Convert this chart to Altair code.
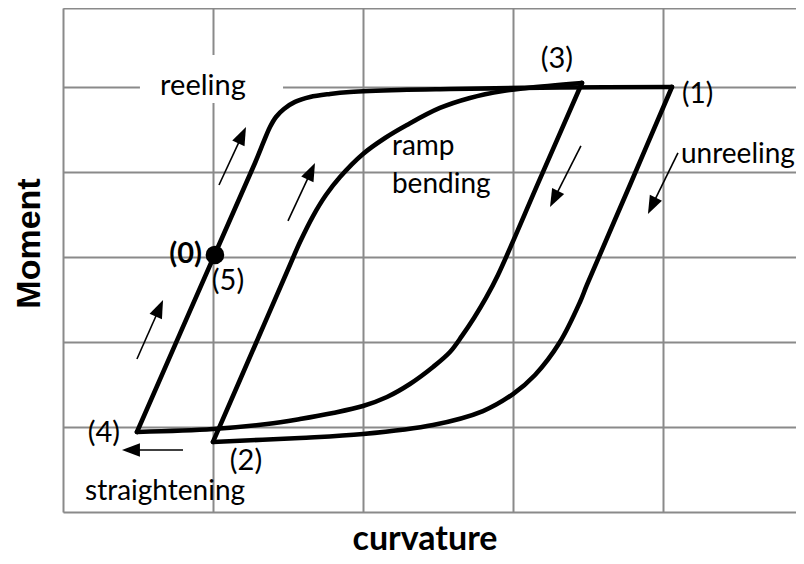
import math
import altair as alt
import pandas as pd

# ---- axis extents (grid units) ----
X_MAX = 4.887
Y_MAX = 5.929
PX_X = 150.0   # pixels per x unit (for orienting arrow heads only)
PX_Y = 85.0    # pixels per y unit
HEAD_HALF = 9.0

# ---- curve segments (curvature, moment) ----
reel_x = [0.493, 1.013, 1.28, 1.34, 1.38, 1.42, 1.473, 1.547, 1.647, 1.78, 1.913, 2.247, 2.58, 3.313, 4.06]
reel_y = [0.941, 3.035, 4.106, 4.365, 4.529, 4.647, 4.741, 4.824, 4.882, 4.918, 4.941, 4.965, 4.976, 4.994, 5.0]
unreel_x = [1.0, 1.58, 2.0, 2.467, 2.8, 3.0, 3.147, 3.313, 3.447, 3.493, 3.78, 4.06]
unreel_y = [0.824, 0.871, 0.918, 1.024, 1.188, 1.388, 1.612, 2.0, 2.471, 2.671, 3.847, 5.0]
ramp_x = [1.0, 1.313, 1.513, 1.58, 1.667, 1.753, 1.847, 2.0, 2.147, 2.293, 2.513, 2.713, 2.933, 3.093, 3.46]
ramp_y = [0.824, 2.094, 2.906, 3.176, 3.482, 3.729, 3.941, 4.212, 4.4, 4.553, 4.753, 4.871, 4.953, 4.988, 5.047]
straight_x = [0.493, 1.0, 1.36, 1.58, 1.8, 2.0, 2.16, 2.313, 2.467, 2.58, 2.66, 2.74, 2.82, 2.9, 3.18, 3.46]
straight_y = [0.941, 0.976, 1.035, 1.094, 1.165, 1.247, 1.353, 1.506, 1.706, 1.882, 2.071, 2.282, 2.518, 2.788, 3.918, 5.047]

# ---- start point ----
dot_x = [1.013]
dot_y = [3.024]

# ---- arrows (tail -> tip) ----
arrow_tail_x = [1.04, 1.5, 0.493, 0.8, 3.453, 4.1]
arrow_tail_y = [3.847, 3.424, 1.80, 0.729, 4.306, 4.224]
arrow_tip_x = [1.22, 1.68, 0.667, 0.393, 3.247, 3.9]
arrow_tip_y = [4.529, 4.106, 2.494, 0.729, 3.588, 3.506]

# ---- labels ----
center_text = ["reeling", "(3)", "(4)", "(2)", "(5)"]
center_x = [0.933, 3.293, 0.273, 1.22, 1.1]
center_y = [4.906, 5.224, 0.824, 0.494, 2.612]
left_text = ["(1)", "ramp", "bending", "unreeling", "straightening"]
left_x = [4.127, 2.193, 2.193, 4.12, 0.147]
left_y = [4.812, 4.2, 3.757, 4.106, 0.141]
bold_text = ["(0)"]
bold_x = [0.927]
bold_y = [2.929]

# white box behind "reeling"
box_x = [0.513]
box_x2 = [1.467]
box_y = [4.812]
box_y2 = [5.376]

# ---- tables ----
rows = []
for name, xs_, ys_ in [("reel", reel_x, reel_y), ("unreel", unreel_x, unreel_y),
                       ("ramp", ramp_x, ramp_y), ("straight", straight_x, straight_y)]:
    for a, b in zip(xs_, ys_):
        rows.append({"seg": name, "x": a, "y": b})
curve_df = pd.DataFrame(rows)

arr = pd.DataFrame({"tx": arrow_tail_x, "ty": arrow_tail_y, "px": arrow_tip_x, "py": arrow_tip_y})
dxp = (arr["px"] - arr["tx"]) * PX_X
dyp = -(arr["py"] - arr["ty"]) * PX_Y
L = (dxp ** 2 + dyp ** 2) ** 0.5
ux = dxp / L
uy = dyp / L
arr["angle"] = [(math.degrees(math.atan2(a, -b)) + 360) % 360 for a, b in zip(ux, uy)]
arr["hx"] = arr["px"] - HEAD_HALF * ux / PX_X
arr["hy"] = arr["py"] + HEAD_HALF * uy / PX_Y

xs = alt.Scale(domain=[0, X_MAX], nice=False, zero=False)
ys = alt.Scale(domain=[0, Y_MAX], nice=False, zero=False)

GRID = "#8a8a8a"
xaxis = alt.Axis(values=[0, 1, 2, 3, 4], grid=True, gridColor=GRID, gridWidth=2, gridOpacity=1,
                 labels=False, ticks=False, domain=False,
                 title="curvature", titleFont="Lato", titleFontSize=34, titleFontWeight="bold",
                 titleColor="black", titleX=361.5, titleY=37, titleBaseline="alphabetic",
                 titleAlign="center")
yaxis = alt.Axis(values=[0, 1, 2, 3, 4, 5, Y_MAX], grid=True, gridColor=GRID, gridWidth=2, gridOpacity=1,
                 labels=False, ticks=False, domain=False,
                 title="Moment", titleFont="Liberation Sans", titleFontSize=34, titleFontWeight="bold",
                 titleColor="black", titleAngle=270, titleX=-24, titleY=235,
                 titleBaseline="alphabetic", titleAlign="center")


def X(f):
    return alt.X(f, type="quantitative", scale=xs, axis=xaxis)


def Y(f):
    return alt.Y(f, type="quantitative", scale=ys, axis=yaxis)


box = alt.Chart(pd.DataFrame({"x": box_x, "x2": box_x2, "y": box_y, "y2": box_y2})).mark_rect(
    color="white").encode(x=X("x"), x2="x2", y=Y("y"), y2="y2")

curves = alt.Chart(curve_df).mark_line(interpolate="catmull-rom", strokeWidth=4.6, color="black",
                                       strokeCap="round", strokeJoin="round").encode(
    x=X("x"), y=Y("y"), detail="seg:N")

shafts = alt.Chart(arr).mark_rule(strokeWidth=1.6, color="black").encode(
    x=X("tx"), y=Y("ty"), x2="hx", y2="hy")

heads = alt.Chart(arr).mark_point(shape="M0,-1L0.75,1L-0.75,1Z", filled=True, size=324,
                                  color="black", opacity=1, strokeWidth=0).encode(
    x=X("hx"), y=Y("hy"), angle=alt.Angle("angle:Q", scale=None))

dot = alt.Chart(pd.DataFrame({"x": dot_x, "y": dot_y})).mark_circle(
    size=346, color="black", opacity=1).encode(x=X("x"), y=Y("y"))

t_center = alt.Chart(pd.DataFrame({"t": center_text, "x": center_x, "y": center_y})).mark_text(
    font="Lato", fontSize=29, align="center", baseline="alphabetic", color="black").encode(
    x=X("x"), y=Y("y"), text="t:N")

t_left = alt.Chart(pd.DataFrame({"t": left_text, "x": left_x, "y": left_y})).mark_text(
    font="Lato", fontSize=28, align="left", baseline="alphabetic", color="black").encode(
    x=X("x"), y=Y("y"), text="t:N")

t_bold = alt.Chart(pd.DataFrame({"t": bold_text, "x": bold_x, "y": bold_y})).mark_text(
    font="Lato", fontSize=29, fontWeight="bold", align="right", baseline="alphabetic",
    color="black").encode(x=X("x"), y=Y("y"), text="t:N")

chart = alt.layer(box, curves, shafts, heads, dot, t_center, t_left, t_bold).properties(
    width=733, height=504,
    autosize=alt.AutoSizeParams(type="none"),
    padding={"left": 55, "top": 0, "right": 0, "bottom": 44},
).configure_view(stroke=None).configure(background="white")

chart.save("out.html", embed_options={"renderer": "svg", "actions": False})
